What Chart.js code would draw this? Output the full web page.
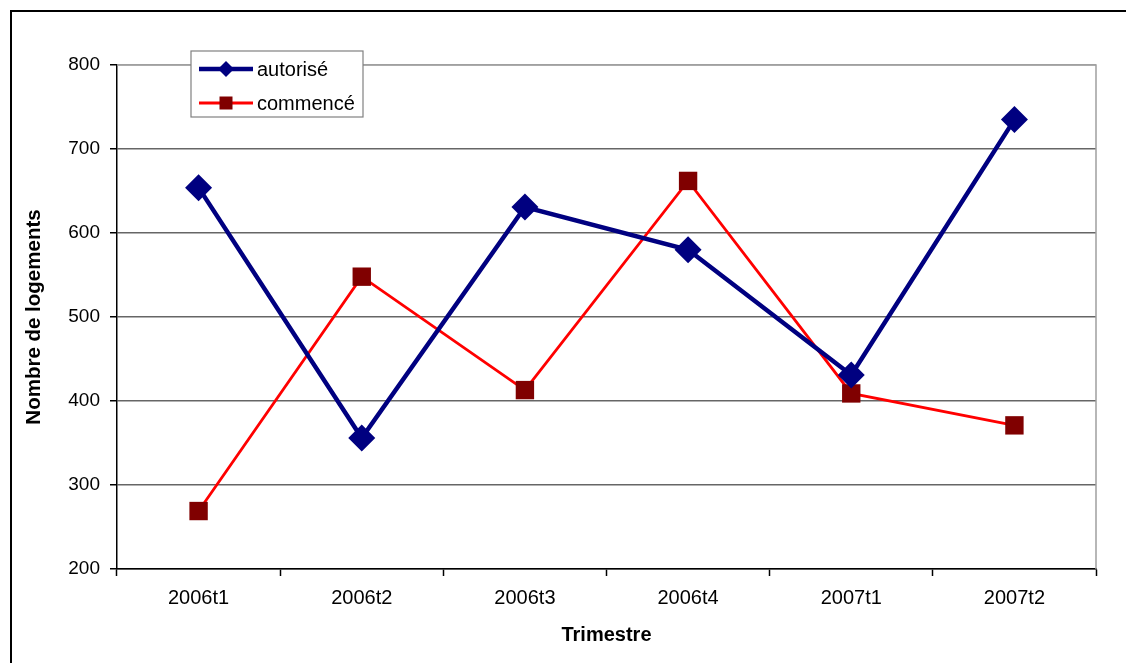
<html>
<head>
    <script src="https://cdn.jsdelivr.net/npm/chart.js"></script>
    <style>
        html, body { margin: 0; padding: 0; background: white; }
        #wrap { width: 1126px; height: 663px; position: relative; }
    </style>
</head>
<body>
    <div id="wrap"><canvas id="chart"></canvas></div>

    <script>
        const trimestres = ['2006t1', '2006t2', '2006t3', '2006t4', '2007t1', '2007t2'];
        const autorise = [654, 356, 631, 580, 431, 735];
        const commence = [269, 548, 413, 662, 409, 371];
        const yTicks = [200, 300, 400, 500, 600, 700, 800];

        const FONT = 'Arial, "Liberation Sans", sans-serif';

        // cadre extérieur + bordure grise du tracé + légende encadrée
        const cadre = {
            id: 'cadre',
            beforeDraw(chart) {
                const ctx = chart.ctx;
                ctx.save();
                ctx.fillStyle = 'white';
                ctx.fillRect(0, 0, chart.width, chart.height);
                ctx.strokeStyle = '#000';
                ctx.lineWidth = 2;
                ctx.strokeRect(11, 11, 1300, 1000);
                ctx.restore();
            },
            beforeDatasetsDraw(chart) {
                const a = chart.chartArea;
                const ctx = chart.ctx;
                ctx.save();
                ctx.strokeStyle = '#a0a0a0';
                ctx.lineWidth = 1.5;
                ctx.beginPath();
                ctx.moveTo(a.left, a.top);
                ctx.lineTo(a.right, a.top);
                ctx.lineTo(a.right, a.bottom);
                ctx.stroke();
                ctx.restore();
            },
            afterDraw(chart) {
                const ctx = chart.ctx;
                const x = 191, y = 51, w = 172, h = 66;
                ctx.save();
                ctx.fillStyle = 'white';
                ctx.fillRect(x, y, w, h);
                ctx.strokeStyle = '#808080';
                ctx.lineWidth = 1.2;
                ctx.strokeRect(x, y, w, h);
                chart.data.datasets.forEach((ds, i) => {
                    const cy = 69 + i * 34;
                    ctx.strokeStyle = ds.borderColor;
                    ctx.lineWidth = ds.borderWidth;
                    ctx.beginPath();
                    ctx.moveTo(199, cy);
                    ctx.lineTo(253, cy);
                    ctx.stroke();
                    ctx.fillStyle = ds.pointBackgroundColor;
                    ctx.beginPath();
                    if (ds.pointStyle === 'rectRot') {
                        const r = 8;
                        ctx.moveTo(226, cy - r);
                        ctx.lineTo(226 + r, cy);
                        ctx.lineTo(226, cy + r);
                        ctx.lineTo(226 - r, cy);
                        ctx.closePath();
                    } else {
                        ctx.rect(219.5, cy - 6.5, 13, 13);
                    }
                    ctx.fill();
                    ctx.fillStyle = '#000';
                    ctx.font = '20px ' + FONT;
                    ctx.textBaseline = 'middle';
                    ctx.textAlign = 'left';
                    ctx.fillText(ds.label, 257, cy + 1);
                });
                ctx.restore();
            }
        };

        const ctx = document.getElementById('chart').getContext('2d');
        new Chart(ctx, {
            type: 'line',
            data: {
                labels: trimestres,
                datasets: [{
                    label: 'autorisé',
                    data: autorise,
                    borderColor: '#000080',
                    borderWidth: 4.5,
                    pointStyle: 'rectRot',
                    pointRadius: 13.5,
                    pointBackgroundColor: '#000080',
                    pointBorderWidth: 0,
                    tension: 0
                }, {
                    label: 'commencé',
                    data: commence,
                    borderColor: '#ff0000',
                    borderWidth: 2.8,
                    pointStyle: 'rect',
                    pointRadius: 13,
                    pointBackgroundColor: '#800000',
                    pointBorderWidth: 0,
                    tension: 0
                }]
            },
            options: {
                responsive: true,
                maintainAspectRatio: false,
                animation: false,
                layout: { padding: { left: 0, top: 65, right: 30, bottom: 0 } },
                plugins: {
                    legend: { display: false },
                    tooltip: { enabled: false }
                },
                scales: {
                    x: {
                        offset: true,
                        afterFit: scale => { scale.height = 94; },
                        grid: {
                            offset: true,
                            drawOnChartArea: false,
                            drawTicks: true,
                            tickLength: 7,
                            tickColor: '#000',
                            tickWidth: 1.5
                        },
                        border: { color: '#000', width: 1.5 },
                        ticks: { color: '#000', font: { family: FONT, size: 20 }, padding: 10, maxRotation: 0 },
                        title: {
                            display: true,
                            text: 'Trimestre',
                            color: '#000',
                            font: { family: FONT, size: 20, weight: 'bold' },
                            padding: { top: 0, bottom: 16 }
                        }
                    },
                    y: {
                        min: 200,
                        max: 800,
                        afterFit: scale => { scale.width = 117; },
                        afterBuildTicks: scale => { scale.ticks = yTicks.map(v => ({ value: v })); },
                        grid: {
                            color: ctx => ctx.tick && ctx.tick.value === 800 ? '#a0a0a0' : '#666',
                            lineWidth: 1.5,
                            tickLength: 7,
                            tickColor: '#000',
                            tickWidth: 1.5
                        },
                        border: { color: '#000', width: 1.5 },
                        ticks: { color: '#000', font: { family: FONT, size: 19 }, padding: 10 },
                        title: {
                            display: true,
                            text: 'Nombre de logements',
                            color: '#000',
                            font: { family: FONT, size: 20.5, weight: 'bold' },
                            padding: { top: 22, bottom: 0 }
                        }
                    }
                }
            },
            plugins: [cadre]
        });
    </script>
</body>
</html>
